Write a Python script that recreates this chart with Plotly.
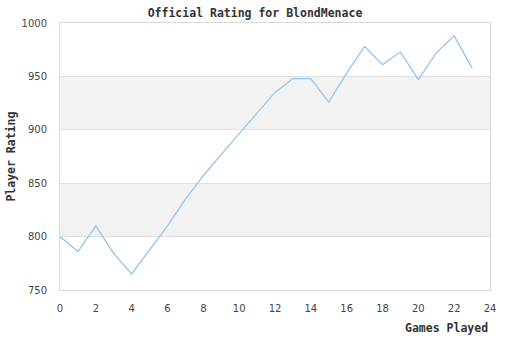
import plotly.graph_objects as go

# Rating history, one value per game played
games = list(range(24))
rating = [800, 786, 810, 784, 765, 788, 810, 835, 857, 877, 896, 915,
          935, 948, 948, 926, 953, 978, 961, 973, 947, 972, 988, 958]

y_ticks = [750, 800, 850, 900, 950, 1000]
x_ticks = list(range(0, 25, 2))

title = "Official Rating for BlondMenace"
x_title = "Games Played"
y_title = "Player Rating"

mono = "DejaVu Sans Mono"
sans = "DejaVu Sans"

fig = go.Figure()
fig.add_trace(go.Scatter(
    x=games, y=rating, mode="lines",
    line=dict(color="#92c4f2", width=1.3),
    hoverinfo="x+y",
))

# Alternating shaded bands between every other pair of gridlines
shapes = []
for i in range(1, len(y_ticks) - 1, 2):
    shapes.append(dict(
        type="rect", xref="paper", yref="y", x0=0, x1=1,
        y0=y_ticks[i], y1=y_ticks[i + 1],
        fillcolor="#f2f2f2", line=dict(width=0), layer="below",
    ))

fig.update_layout(
    width=510, height=340,
    margin=dict(l=60, r=20, t=23, b=50),
    paper_bgcolor="white", plot_bgcolor="white",
    showlegend=False,
    shapes=shapes,
    title=dict(text="<b>" + title + "</b>", x=0.5, xanchor="center",
               y=1 - 13 / 340, yanchor="middle",
               font=dict(family=mono, size=11.5, color="#333")),
    annotations=[
        dict(text="<b>" + x_title + "</b>", xref="paper", yref="paper",
             x=1, y=-0.142, xanchor="right", yanchor="middle", showarrow=False,
             font=dict(family=mono, size=11.5, color="#333")),
        dict(text="<b>" + y_title + "</b>", xref="paper", yref="paper",
             x=-0.116, y=0.5, xanchor="center", yanchor="middle",
             textangle=-90, showarrow=False,
             font=dict(family=mono, size=11.5, color="#333")),
    ],
    xaxis=dict(range=[0, 24], tickvals=x_ticks, showgrid=False, zeroline=False,
               showline=True, linecolor="#d9d9d9", linewidth=1, mirror=True,
               ticks="", ticklabelstandoff=9,
               tickfont=dict(family=sans, size=10, color="#444")),
    yaxis=dict(range=[750, 1000], tickvals=y_ticks, showgrid=True,
               gridcolor="#e0e0e0", gridwidth=1, zeroline=False,
               showline=True, linecolor="#d9d9d9", linewidth=1, mirror=True,
               ticks="", ticklabelstandoff=10,
               tickfont=dict(family=sans, size=10, color="#444")),
)

fig.write_html("out.html")
